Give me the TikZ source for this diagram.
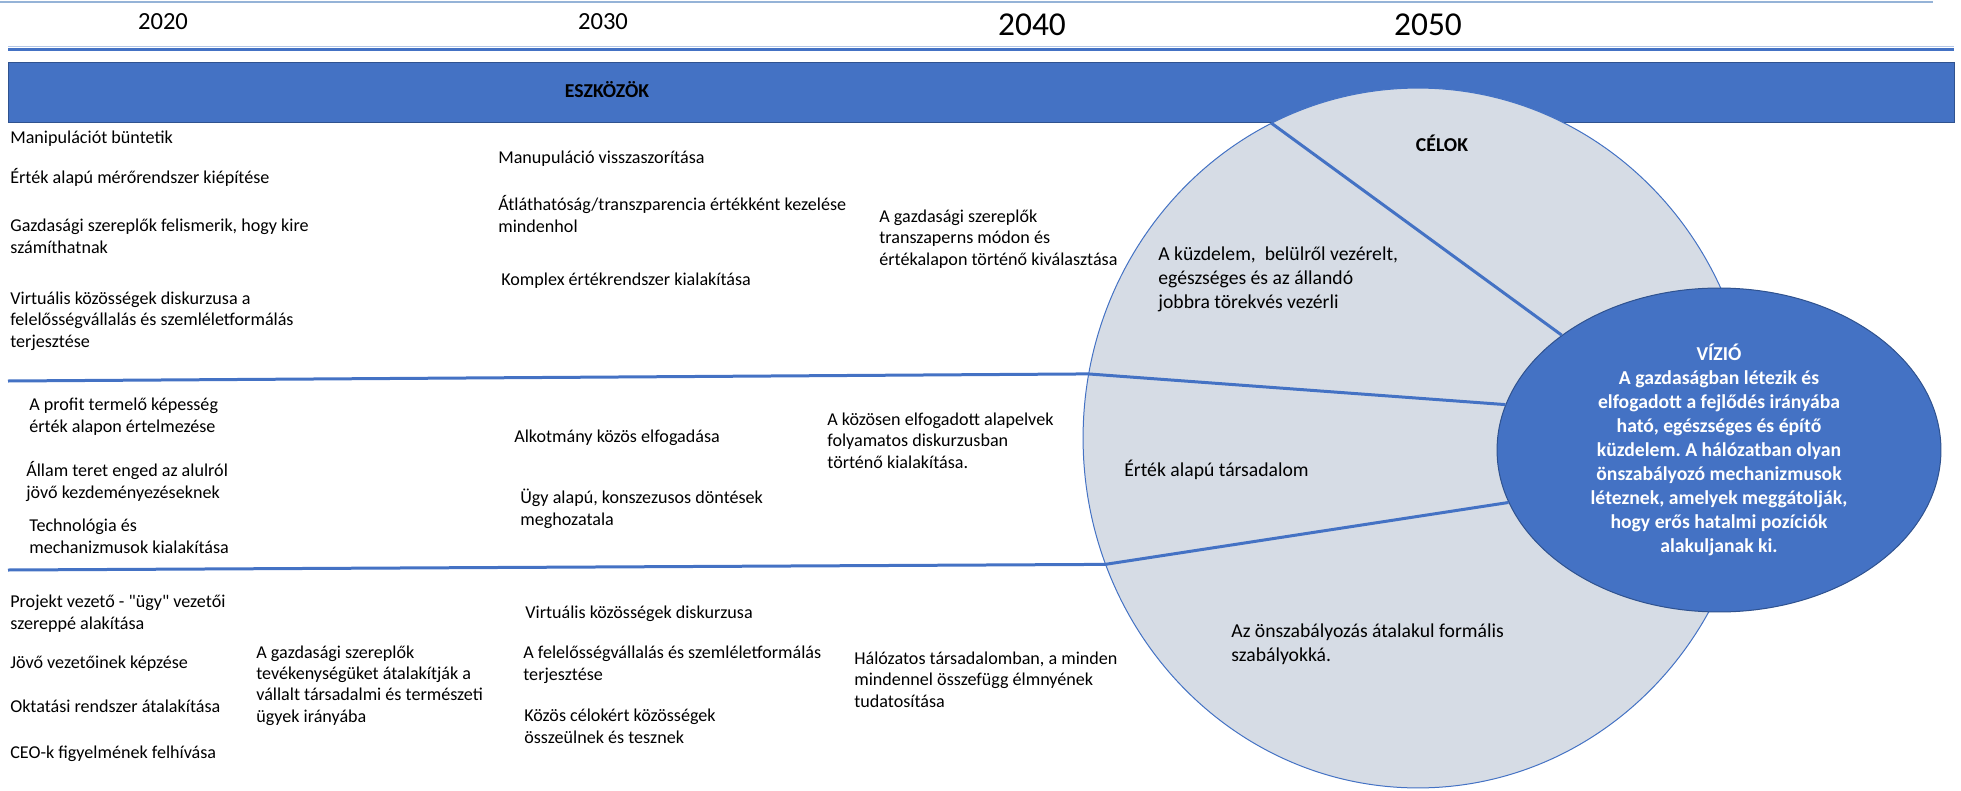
\documentclass[tikz,border=0pt]{standalone}
\usepackage{fontspec}
\setmainfont{Carlito}[Ligatures=TeXOff]
\usepackage{tikz}
\usetikzlibrary{shapes.geometric}
\usepackage{xcolor}
\frenchspacing

\definecolor{bandblue}{HTML}{4472C4}
\definecolor{edgeblue}{HTML}{2F528F}
\definecolor{goalfill}{HTML}{D6DCE5}
\definecolor{topline}{HTML}{95B3D7}
\definecolor{lightline}{HTML}{B4C7E7}

\newcommand{\txt}{\fontsize{10.3pt}{12pt}\selectfont}
\newcommand{\etxt}{\fontsize{11.2pt}{13.5pt}\selectfont}
\newcommand{\vtxt}{\fontsize{11.2pt}{13.7pt}\selectfont\bfseries}

\begin{document}
\begin{tikzpicture}[x=0.02cm,y=-0.02cm]
    \useasboundingbox (0,0) rectangle (1961,791);
    \tikzstyle{every node}=[font=\txt,inner sep=0pt,anchor=base west,align=left]
    \tikzstyle{divline}=[bandblue,line width=0.06cm]
    %% timeline
    \draw[topline,line width=0.03cm] (0,2) -- (1933,2);
    \node[font=\fontsize{14pt}{16pt}\selectfont,anchor=center] (y20) at (163,22) {2020};
    \node[font=\fontsize{14pt}{16pt}\selectfont,anchor=center] (y30) at (603,22) {2030};
    \node[font=\fontsize{19pt}{22pt}\selectfont,anchor=center] (y40) at (1032,25) {2040};
    \node[font=\fontsize{19pt}{22pt}\selectfont,anchor=center] (y50) at (1428,25) {2050};
    \draw[lightline,line width=0.02cm] (8,46.5) -- (1954,46.5);
    \draw[divline] (8,49) -- (1954,49);
    %% tools band
    \draw[edgeblue,fill=bandblue,line width=0.012cm] (8,62) rectangle (1954,122);
    \node[font=\etxt\bfseries,anchor=base] (tools) at (607,97) {ESZKÖZÖK};
    %% goals and vision
    \node[ellipse,draw=bandblue,fill=goalfill,line width=0.02cm,anchor=center,
          minimum width=13.4cm,minimum height=14cm] (goals) at (1418,438) {};
    \node[ellipse,draw=edgeblue,fill=bandblue,line width=0.02cm,anchor=center,
          minimum width=8.88cm,minimum height=6.48cm,align=center,text=white,font=\vtxt] (vis) at (1719,450)
          {VÍZIÓ\\A gazdaságban létezik és\\elfogadott a fejlődés irányába\\ható, egészséges és építő\\küzdelem. A hálózatban olyan\\önszabályozó mechanizmusok\\léteznek, amelyek meggátolják,\\hogy erős hatalmi pozíciók\\alakuljanak ki.};
    \coordinate (s1) at (8,381);
    \coordinate (s2) at (8,570);
    \draw[divline] (goals.115.6) -- (vis);
    \draw[divline] (s1) -- (goals.169.6) -- (vis.168);
    \draw[divline] (s2) -- (goals.202.8) -- (vis.194);
    \node[font=\etxt\bfseries,anchor=base] (celok) at (1442,151) {CÉLOK};
    %% first row
    \node (a1) at (10,143) {Manipulációt büntetik};
    \node (a2) at (10,183) {Érték alapú mérőrendszer kiépítése};
    \node (a3) at (10,253) {Gazdasági szereplők felismerik, hogy kire\\számíthatnak};
    \node (a4) at (10,347) {Virtuális közösségek diskurzusa a\\felelősségvállalás és szemléletformálás\\terjesztése};
    \node (a5) at (498,163) {Manupuláció visszaszorítása};
    \node (a6) at (498,232) {Átláthatóság/transzparencia értékként kezelése\\mindenhol};
    \node (a7) at (501,285) {Komplex értékrendszer kialakítása};
    \node (a8) at (879,265) {A gazdasági szereplők\\transzaperns módon és\\értékalapon történő kiválasztása};
    \node[font=\etxt] (a9) at (1158,308) {A küzdelem,~ belülről vezérelt,\\egészséges és az állandó\\jobbra törekvés vezérli};
    %% second row
    \node (b1) at (29,432) {A profit termelő képesség\\érték alapon értelmezése};
    \node (b2) at (26,498) {Állam teret enged az alulról\\jövő kezdeményezéseknek};
    \node (b3) at (29,553) {Technológia és\\mechanizmusok kialakítása};
    \node (b4) at (514,442) {Alkotmány közös elfogadása};
    \node (b5) at (520,525) {Ügy alapú, konszezusos döntések\\meghozatala};
    \node (b6) at (827,468) {A közösen elfogadott alapelvek\\folyamatos diskurzusban\\történő kialakítása.};
    \node[font=\etxt] (b7) at (1124,476) {Érték alapú társadalom};
    %% third row
    \node (c1) at (10,629) {Projekt vezető - "ügy" vezetői\\szereppé alakítása};
    \node (c2) at (10,668) {Jövő vezetőinek képzése};
    \node (c3) at (10,712) {Oktatási rendszer átalakítása};
    \node (c4) at (10,758) {CEO-k figyelmének felhívása};
    \node (c5) at (256,722) {A gazdasági szereplők\\tevékenységüket átalakítják a\\vállalt társadalmi és természeti\\ügyek irányába};
    \node (c6) at (525,618) {Virtuális közösségek diskurzusa};
    \node (c7) at (523,680) {A felelősségvállalás és szemléletformálás\\terjesztése};
    \node (c8) at (524,743) {Közös célokért közösségek\\összeülnek és tesznek};
    \node (c9) at (854,707) {Hálózatos társadalomban, a minden\\mindennel összefügg élmnyének\\tudatosítása};
    \node[font=\etxt] (c10) at (1231,661) {Az önszabályozás átalakul formális\\szabályokká.};
\end{tikzpicture}
\end{document}
